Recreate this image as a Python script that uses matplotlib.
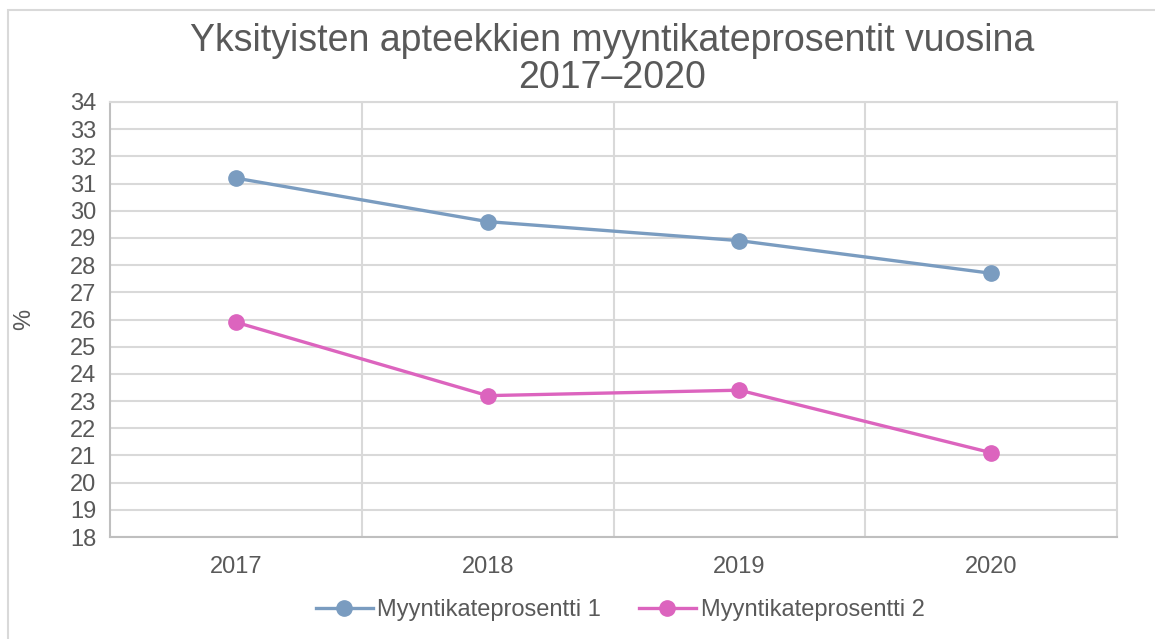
import matplotlib.pyplot as plt
from matplotlib.patches import Rectangle

plt.rcParams['font.family'] = ['Liberation Sans', 'DejaVu Sans']

years = ['2017', '2018', '2019', '2020']
sarja1 = [31.2, 29.6, 28.9, 27.7]
sarja2 = [25.9, 23.2, 23.4, 21.1]
nimet = ['Myyntikateprosentti 1', 'Myyntikateprosentti 2']
varit = ['#7a9cc0', '#dc64be']

fig = plt.figure(figsize=(11.55, 6.39), dpi=100)
ax = fig.add_axes([0.0952, 0.1596, 0.872, 0.6808])

x = range(len(years))
for y, nimi, c in zip([sarja1, sarja2], nimet, varit):
    ax.plot(x, y, color=c, lw=2.4, marker='o', ms=11, label=nimi)

ax.set_xlim(-0.5, len(years) - 0.5)
ax.set_ylim(18, 34)
ax.set_yticks(range(18, 35))
ax.set_xticks(list(x))
ax.set_xticklabels(years)
ax.set_xticks([i + 0.5 for i in range(len(years) - 1)], minor=True)
ax.grid(axis='y', color='#d9d9d9', lw=1.5)
ax.grid(axis='x', which='minor', color='#d9d9d9', lw=1.5)
ax.set_axisbelow(True)
for s in ['top', 'right']:
    ax.spines[s].set_color('#d9d9d9')
    ax.spines[s].set_linewidth(1.5)
for s in ['left', 'bottom']:
    ax.spines[s].set_color('#bfbfbf')
    ax.spines[s].set_linewidth(1.5)
ax.tick_params(which='both', length=0, labelsize=17, colors='#595959')
ax.tick_params(axis='y', pad=10)
ax.tick_params(axis='x', pad=14)
ax.set_ylabel('%', fontsize=17, color='#595959')
ax.yaxis.set_label_coords(-0.074, 0.5)

fig.text(0.53, 0.907, 'Yksityisten apteekkien myyntikateprosentit vuosina\n2017–2020',
         ha='center', va='center', fontsize=27, color='#595959', linespacing=1.05)
fig.legend(loc='center', bbox_to_anchor=(0.537, 0.045), ncol=2, frameon=False,
           fontsize=17, labelcolor='#595959', handlelength=2.4, columnspacing=1.6,
           handletextpad=0.2)
fig.patches.append(Rectangle((8 / 1155, -0.1), 1.2, 1.1 - 10 / 639,
                             transform=fig.transFigure, fill=False,
                             edgecolor='#d9d9d9', lw=1.5))

fig.savefig('out.png', dpi=100)
